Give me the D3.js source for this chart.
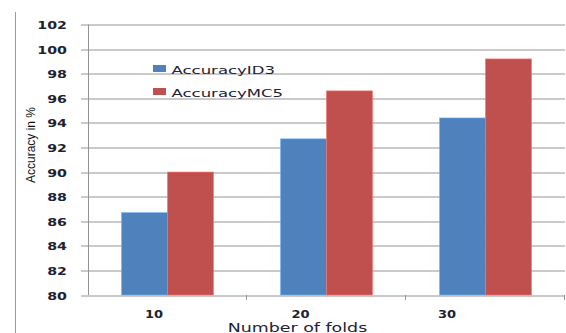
<!DOCTYPE html>
<meta charset="utf-8">
<style>
  body { margin: 0; background: #fff; }
  text { fill: #222; }
</style>
<body>
<script src="https://d3js.org/d3.v7.min.js"></script>
<script>
  // data
  var folds = ["10", "20", "30"];
  var accuracyID3 = [86.7, 92.7, 94.4];
  var accuracyMC5 = [90.0, 96.6, 99.2];
  var seriesNames = ["AccuracyID3", "AccuracyMC5"];
  var yTicks = [80, 82, 84, 86, 88, 90, 92, 94, 96, 98, 100, 102];

  var svg = d3.select("body").append("svg")
          .attr("width", 566)
          .attr("height", 333);

  var margin = {top: 24.5, right: 1, bottom: 38, left: 88},
          width = +svg.attr("width") - margin.left - margin.right,
          height = +svg.attr("height") - margin.top - margin.bottom,
          g = svg.append("g").attr("transform", "translate(" + margin.left + "," + margin.top + ")");

  var colors = d3.scaleOrdinal().domain(seriesNames).range(["#4F81BD", "#C0504D"]);

  // the picture looks stretched sideways, so text gets widened too
  function stretch(sel, k) {
    sel.each(function() {
      var w = this.getComputedTextLength();
      d3.select(this).attr("textLength", w * k).attr("lengthAdjust", "spacingAndGlyphs");
    });
  }

  var x0 = d3.scaleBand().domain(folds).range([0, width]).paddingInner(0).paddingOuter(0);
  var x1 = d3.scaleBand().domain(seriesNames).range([0, x0.bandwidth()]).paddingOuter(0.73).paddingInner(0);
  var y = d3.scaleLinear().domain([80, 102]).range([height, 0]);

  // frame line on the left
  svg.append("line")
          .attr("x1", 15.5).attr("x2", 15.5).attr("y1", 12).attr("y2", 333)
          .attr("stroke", "#9a9a9a");

  // gridlines
  g.append("g").selectAll("line")
          .data(yTicks)
          .enter().append("line")
          .attr("x1", -7).attr("x2", width)
          .attr("y1", function(d) { return Math.round(y(d)) + 0.5; })
          .attr("y2", function(d) { return Math.round(y(d)) + 0.5; })
          .attr("stroke", "#949494");

  // y axis line
  g.append("line")
          .attr("x1", 0.5).attr("x2", 0.5)
          .attr("y1", y(102)).attr("y2", height)
          .attr("stroke", "#949494");

  // x ticks at category boundaries
  g.append("g").selectAll("line")
          .data(folds)
          .enter().append("line")
          .attr("x1", function(d) { return Math.round(x0(d) + x0.bandwidth()) - 0.5; })
          .attr("x2", function(d) { return Math.round(x0(d) + x0.bandwidth()) - 0.5; })
          .attr("y1", height).attr("y2", height + 5)
          .attr("stroke", "#949494");

  // bars
  var rows = folds.map(function(f, i) { return {fold: f, values: [accuracyID3[i], accuracyMC5[i]]}; });
  var groups = g.append("g").selectAll("g")
          .data(rows)
          .enter().append("g")
          .attr("transform", function(d) { return "translate(" + x0(d.fold) + ",0)"; });

  groups.selectAll("rect")
          .data(function(d) { return d.values.map(function(v, j) { return {key: seriesNames[j], value: v}; }); })
          .enter().append("rect")
          .attr("x", function(d) { return x1(d.key); })
          .attr("width", x1.bandwidth())
          .attr("y", function(d) { return y(d.value); })
          .attr("height", function(d) { return height - y(d.value); })
          .attr("fill", function(d) { return colors(d.key); })
          .attr("stroke", function(d) { return d3.color(colors(d.key)).brighter(0.9); })
          .attr("stroke-width", 0.6);

  // y tick labels
  g.append("g").selectAll("text")
          .data(yTicks)
          .enter().append("text")
          .attr("x", -21)
          .attr("y", function(d) { return y(d) + 4.5; })
          .attr("text-anchor", "end")
          .style("font-family", "DejaVu Sans")
          .style("font-weight", "bold")
          .style("font-size", "10px")
          .style("fill", "#1e2233")
          .text(function(d) { return d; })
          .call(stretch, 1.42);

  // x tick labels sit a little left of the bar groups in the picture
  var xl = d3.scaleBand().domain(folds).range([-7.2, -7.2 + 3 * 146.5]);
  g.append("g").selectAll("text")
          .data(folds)
          .enter().append("text")
          .attr("x", function(d) { return xl(d) + xl.bandwidth() / 2; })
          .attr("y", height + 23)
          .attr("text-anchor", "middle")
          .style("font-family", "DejaVu Sans")
          .style("font-weight", "bold")
          .style("font-size", "10px")
          .style("fill", "#1e2233")
          .text(function(d) { return d; })
          .call(stretch, 1.3);

  // axis titles
  svg.append("text")
          .attr("x", 297.5)
          .attr("y", 331.5)
          .attr("text-anchor", "middle")
          .style("font-family", "DejaVu Sans")
          .style("font-size", "12px")
          .style("fill", "#1e2233")
          .text("Number of folds")
          .call(stretch, 1.45);

  svg.append("text")
          .attr("transform", "translate(35,145) rotate(-90)")
          .attr("text-anchor", "middle")
          .style("font-family", "Liberation Sans")
          .style("font-size", "12px")
          .style("fill", "#111")
          .text("Accuracy in %");

  // legend
  var legend = svg.append("g").attr("transform", "translate(153,65)");
  var items = legend.selectAll("g")
          .data(seriesNames)
          .enter().append("g")
          .attr("transform", function(d, i) { return "translate(0," + i * 23 + ")"; });

  items.append("rect")
          .attr("width", 13).attr("height", 7)
          .attr("fill", function(d) { return colors(d); });

  items.append("text")
          .attr("x", 18.5)
          .attr("y", 9)
          .style("font-family", "DejaVu Sans")
          .style("font-size", "11px")
          .style("fill", "#1e2233")
          .text(function(d) { return d; })
          .call(stretch, 1.5);
</script>
</body>
</html>
